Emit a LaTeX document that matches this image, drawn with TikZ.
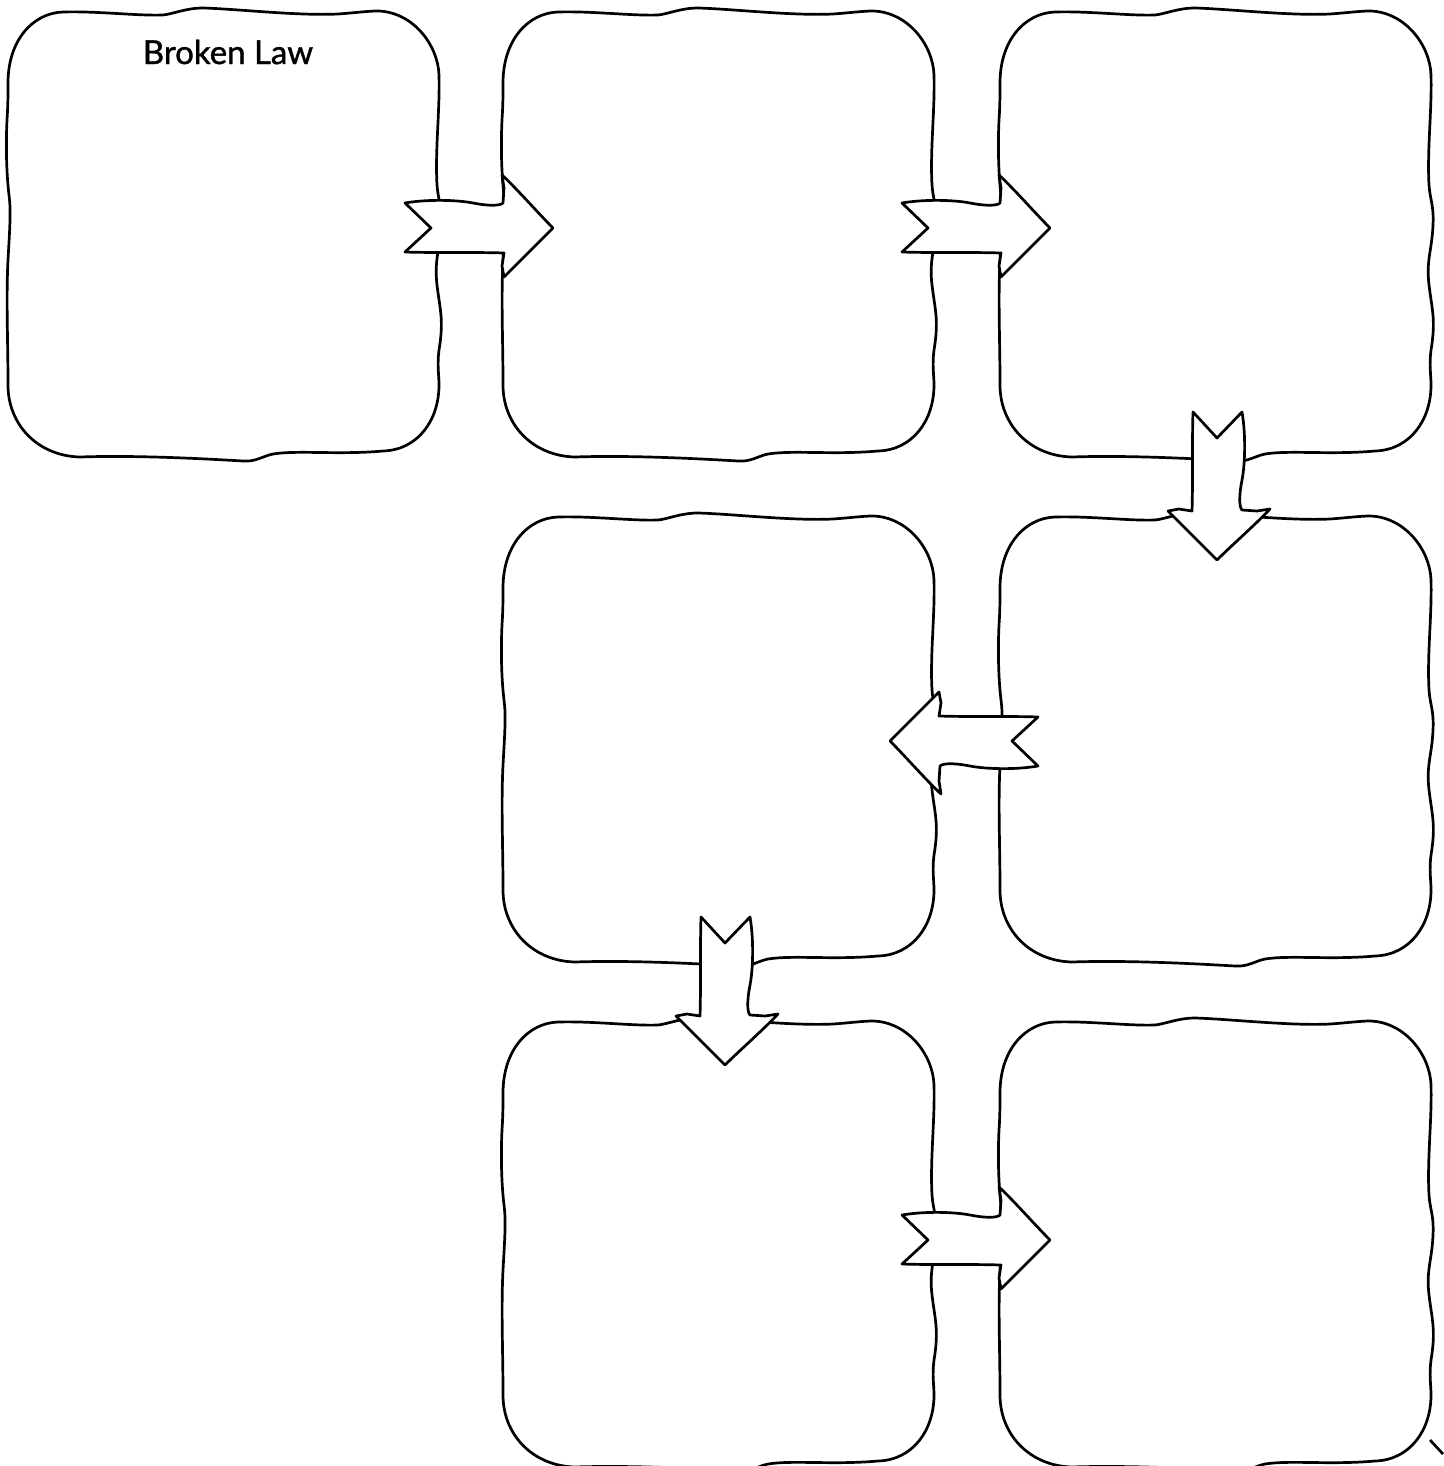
\documentclass[tikz,border=0pt]{standalone}
\usepackage{fontspec}
\setmainfont{Lato}
\newfontfamily\titlefont[FakeBold=1.2]{Lato}
\usetikzlibrary{calc}
\tikzset{
  boxline/.style={draw=black,line width=2.7pt,line join=round,fill=white},
  arrowline/.style={draw=black,line width=2.7pt,line join=round,fill=white},
  pics/wbox/.style={code={
    \path[boxline] (0,73) .. controls (0,30) and (25,3) .. (55,2)
      .. controls (90,1) and (130,6) .. (155,5)
      .. controls (165,4) and (178,-2) .. (195,-2)
      .. controls (230,-1) and (290,6) .. (330,4)
      .. controls (345,3) and (360,1) .. (370,1)
      .. controls (405,2) and (430,35) .. (431,65)
      .. controls (432,100) and (427,140) .. (429,175)
      .. controls (430,190) and (434,195) .. (433,215)
      .. controls (432,240) and (426,250) .. (429,275)
      .. controls (432,300) and (436,310) .. (431,340)
      .. controls (429,355) and (431,365) .. (431,375)
      .. controls (431,410) and (410,440) .. (375,441)
      .. controls (330,445) and (290,440) .. (265,444)
      .. controls (255,446) and (248,452) .. (235,451)
      .. controls (200,449) and (130,445) .. (72,447)
      .. controls (30,446) and (0,415) .. (0,375)
      .. controls (0,330) and (-2,290) .. (0,250)
      .. controls (2,215) and (3,200) .. (1,185)
      .. controls (-2,160) and (-2,130) .. (-1,110)
      .. controls (0,95) and (0,85) .. (0,73) -- cycle;
  }},
  pics/blockarrow/.style={code={
    \path[arrowline] (-98,-25) .. controls (-75,-29) and (-45,-28) .. (-30,-25)
      .. controls (-15,-22) and (-3,-22) .. (0,-25)
      -- (1,-40) -- (-1,-53)
      .. controls (15,-38) and (35,-15) .. (50,0)
      .. controls (35,15) and (15,35) .. (1,49)
      -- (-1,38) -- (1,25)
      .. controls (-30,24) and (-70,25) .. (-98,24)
      -- (-72,0) -- cycle;
  }}
}
\begin{document}
\begin{tikzpicture}[x=1pt,y=-1pt]
\useasboundingbox (0,0) rectangle (1443,1466);
% box anchors (top-left corners)
\coordinate (b1) at (8,10);
\coordinate (b2) at (503,10);
\coordinate (b3) at (1000,10);
\coordinate (b4) at (503,515);
\coordinate (b5) at (1000,515);
\coordinate (b6) at (503,1020);
\coordinate (b7) at (1000,1020);
\foreach \b in {b1,b2,b3,b4,b5,b6,b7}{
  \pic[shift={(\b)}] {wbox};
}
\node[font=\titlefont\fontsize{33}{40}\selectfont] (title) at ($(b1)+(220,42)$) {Broken Law};
% arrows: origin at centre of the arrow-head base
\coordinate (a12) at ($(b2)+(0,218)$);
\coordinate (a23) at ($(b3)+(0,218)$);
\coordinate (a35) at ($(b5)+(217,-5)$);
\coordinate (a54) at ($(b4)+(437,226)$);
\coordinate (a46) at ($(b6)+(222,-5)$);
\coordinate (a67) at ($(b7)+(0,220)$);
\pic[shift={(a12)}] {blockarrow};
\pic[shift={(a23)}] {blockarrow};
\pic[shift={(a35)},rotate=-90] {blockarrow};
\pic[shift={(a54)},rotate=180] {blockarrow};
\pic[shift={(a46)},rotate=-90] {blockarrow};
\pic[shift={(a67)}] {blockarrow};
% fragment at the lower right edge
\coordinate (frag1) at (1430,1440);
\coordinate (frag2) at (1443,1454);
\draw[line width=2.7pt] (frag1) -- (frag2);
\end{tikzpicture}
\end{document}
